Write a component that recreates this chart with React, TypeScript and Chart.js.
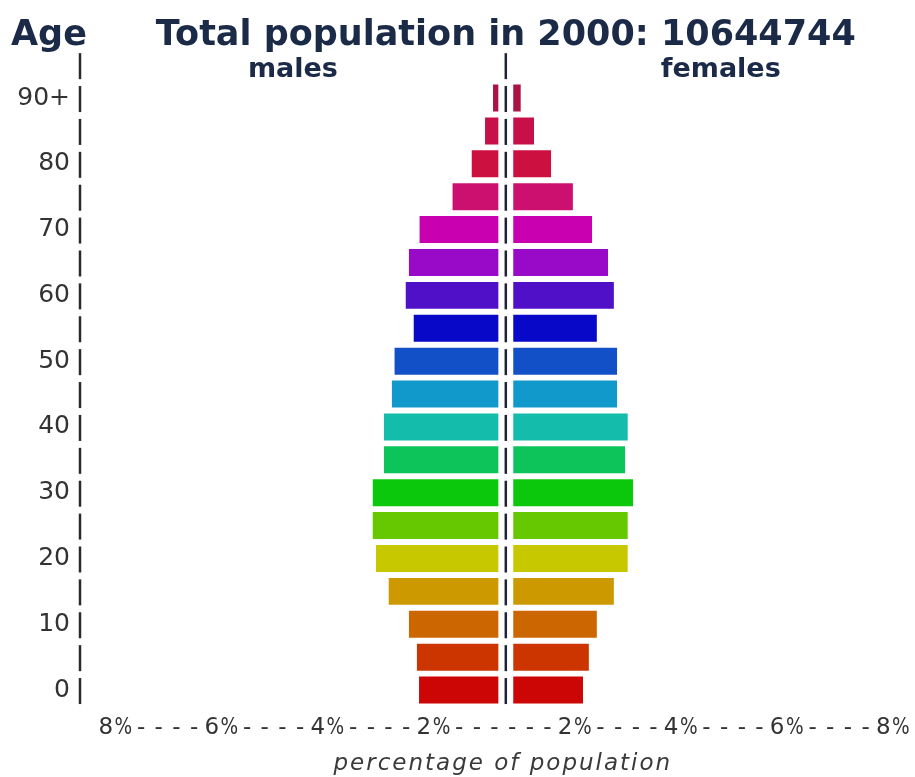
import React, { useEffect, useRef } from "react";
import { Chart, registerables } from "chart.js";

Chart.register(...registerables);

// ---- data ----
const ageGroups = [
  "0-4", "5-9", "10-14", "15-19", "20-24", "25-29", "30-34", "35-39", "40-44", "45-49",
  "50-54", "55-59", "60-64", "65-69", "70-74", "75-79", "80-84", "85-89", "90+",
];
// labels shown on every second age group
const ageTickLabels = ["0", "10", "20", "30", "40", "50", "60", "70", "80", "90+"];
// percentage of population
const malePct = [
  1.63, 1.67, 1.82, 2.2, 2.44, 2.5, 2.5, 2.29, 2.29, 2.14,
  2.09, 1.73, 1.88, 1.82, 1.62, 1.0, 0.64, 0.39, 0.24,
];
const femalePct = [
  1.45, 1.56, 1.71, 2.03, 2.29, 2.29, 2.39, 2.24, 2.29, 2.09,
  2.09, 1.71, 2.03, 1.92, 1.62, 1.26, 0.85, 0.53, 0.28,
];
const barColors = [
  "#cc0505", "#cc3500", "#cc6600", "#cc9900", "#c8c800", "#66c800", "#0cc80c", "#0cc45a",
  "#14bcac", "#1299cc", "#1250c8", "#0808c8", "#5010c8", "#980ac8", "#c800b0", "#cc1070",
  "#cc1040", "#c81048", "#aa1444",
];
const xTickLabels = ["8%", "6%", "4%", "2%", "2%", "4%", "6%", "8%"];
const titleText = "Total population in 2000: 10644744";
const yAxisTitle = "Age";
const xAxisTitle = "percentage of population";
const sideLabels = ["males", "females"];

// ---- style constants ----
const BAR_GAP = 0.14;
const NAVY = "#1b2a47";
const TEXT = "#333";

const decorPlugin = {
  id: "decor",
  afterDatasetsDraw(chart: any) {
    const { ctx, chartArea, scales } = chart;
    const xs = scales.x;
    const ys = scales.y;
    const cx = xs.getPixelForValue(0);
    ctx.save();
    // dashed axes (one dash per row, plus one above the top row)
    ctx.lineWidth = 2.5;
    for (let i = 0; i <= ageGroups.length; i++) {
      const c = ys.getPixelForValue(i);
      ctx.strokeStyle = "#2a2a2a";
      ctx.beginPath();
      ctx.moveTo(chartArea.left, c - 12);
      ctx.lineTo(chartArea.left, c + 14);
      ctx.stroke();
      ctx.strokeStyle = "#1e2436";
      ctx.beginPath();
      ctx.moveTo(cx, c - 12);
      ctx.lineTo(cx, c + 14);
      ctx.stroke();
    }
    ctx.restore();
  },
  afterDraw(chart: any) {
    const { ctx, chartArea, scales } = chart;
    const cx = scales.x.getPixelForValue(0);
    ctx.save();
    // header
    ctx.fillStyle = NAVY;
    ctx.textBaseline = "alphabetic";
    ctx.font = "bold 35px 'DejaVu Sans'";
    ctx.textAlign = "left";
    ctx.fillText(yAxisTitle, 11, 45);
    ctx.textAlign = "center";
    ctx.fillText(titleText, cx, 45);
    ctx.font = "bold 27px 'DejaVu Sans'";
    const half = (cx - chartArea.left) / 2;
    ctx.fillText(sideLabels[0], cx - half, 77);
    ctx.fillText(sideLabels[1], cx + half + 2, 77);

    // bottom tick string on a character grid
    const left = xTickLabels.slice(0, 4).join("----");
    const right = xTickLabels.slice(4).join("----");
    const str = left + "------" + right;
    const cell = 17.67;
    const start = cx - 2.5 - (str.length * cell) / 2;
    ctx.fillStyle = TEXT;
    ctx.font = "23px 'DejaVu Sans'";
    ctx.textAlign = "center";
    for (let i = 0; i < str.length; i++) {
      ctx.fillText(str[i], start + (i + 0.5) * cell, 734, cell);
    }
    // axis title
    ctx.font = "italic 23px 'DejaVu Sans'";
    (ctx as any).letterSpacing = "2px";
    ctx.fillStyle = "#3a3a3a";
    ctx.fillText(xAxisTitle, cx - 3, 770);
    ctx.restore();
  },
};

export default function App() {
  const ref = useRef<HTMLCanvasElement | null>(null);
  useEffect(() => {
    if (!ref.current) return;
    const chart = new Chart(ref.current, {
      type: "bar",
      data: {
        labels: ageGroups,
        datasets: [
          {
            label: sideLabels[0],
            data: malePct.map((v) => [-BAR_GAP, -v]) as any,
            backgroundColor: barColors,
            borderWidth: 0,
            grouped: false,
            barPercentage: 0.82,
            categoryPercentage: 1,
          } as any,
          {
            label: sideLabels[1],
            data: femalePct.map((v) => [BAR_GAP, v]) as any,
            backgroundColor: barColors,
            borderWidth: 0,
            grouped: false,
            barPercentage: 0.82,
            categoryPercentage: 1,
          } as any,
        ],
      },
      options: {
        indexAxis: "y",
        animation: false,
        responsive: true,
        maintainAspectRatio: false,
        layout: { padding: { top: 81.6, bottom: 70.5, left: 0, right: 10 } },
        plugins: {
          legend: { display: false },
          title: { display: false },
          tooltip: { enabled: false },
        },
        scales: {
          x: {
            type: "linear",
            min: -8,
            max: 7.5,
            display: false,
          },
          y: {
            type: "category",
            reverse: true,
            offset: true,
            grid: { display: false, drawTicks: false },
            border: { display: false },
            ticks: {
              autoSkip: false,
              padding: 10,
              color: TEXT,
              font: { family: "'DejaVu Sans'", size: 25 },
              callback: (_v: any, i: number) => (i % 2 === 0 ? ageTickLabels[i / 2] : ""),
            },
            afterFit: (s: any) => {
              s.width = 80;
            },
          },
        },
      },
      plugins: [decorPlugin],
    });
    return () => chart.destroy();
  }, []);

  return (
    <div style={{ position: "fixed", left: 0, top: 0, width: 915, height: 777, background: "#fff" }}>
      <canvas ref={ref} />
    </div>
  );
}
